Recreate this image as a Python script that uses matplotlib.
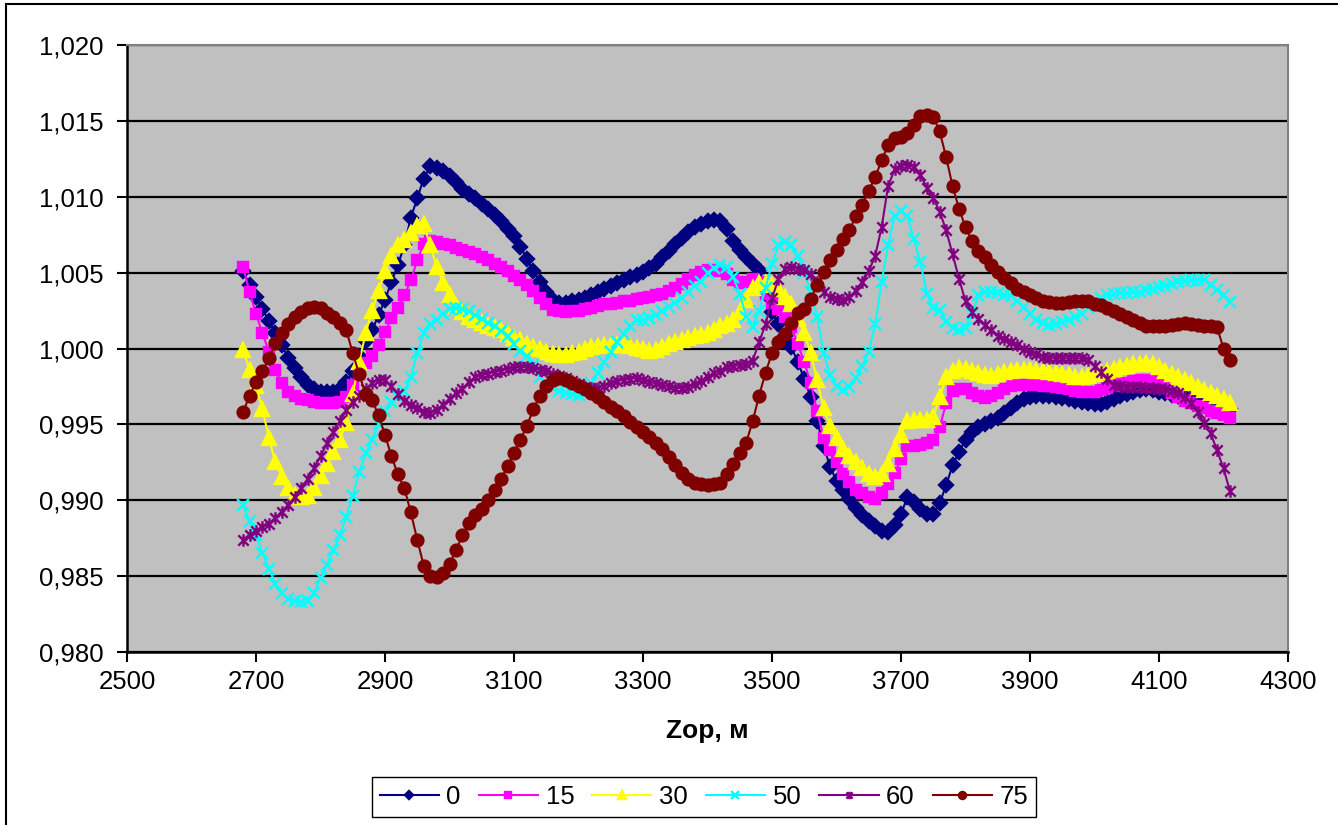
import numpy as np
import matplotlib
matplotlib.use('Agg')
import matplotlib.pyplot as plt
from matplotlib.path import Path
from matplotlib.ticker import FuncFormatter, MultipleLocator

plt.rcParams['font.family'] = ['Liberation Sans', 'DejaVu Sans']

# глубина, м (шаг 10 м)
depth = np.arange(2680, 4211, 10)

# отклонения от 1 в тысячных долях (y = 1 + v/1000)
s0 = [5.1, 4.2,
      3.4, 2.6, 1.8, 1.0, 0.2, -0.6, -1.3, -1.9, -2.4, -2.7,
      -2.85, -2.85, -2.85, -2.7, -2.2, -1.5, -0.5, 0.5, 1.2, 2.2,
      3.2, 4.4, 5.5, 6.8, 8.6, 9.9, 11.2, 12.0, 11.9, 11.7,
      11.4, 11.0, 10.5, 10.2, 9.9, 9.5, 9.2, 8.8, 8.4, 7.9,
      7.4, 6.7, 5.9, 5.1, 4.4, 3.7, 3.2, 3.0, 3.0, 3.1,
      3.2, 3.35, 3.55, 3.75, 3.9, 4.1, 4.3, 4.5, 4.7, 4.85,
      5.05, 5.3, 5.6, 6.0, 6.4, 6.9, 7.3, 7.7, 8.0, 8.2,
      8.4, 8.47, 8.4, 7.9, 7.1, 6.5, 6.0, 5.6, 5.2, 3.6,
      2.4, 1.6, 0.8, 0.1, -0.9, -2.0, -3.2, -4.8, -6.4, -7.8,
      -8.7, -9.3, -9.9, -10.5, -11.0, -11.4, -11.7, -12.0, -12.1, -11.6,
      -10.9, -9.8, -10.1, -10.6, -10.9, -10.9, -10.2, -9.0, -7.7, -6.8,
      -6.0, -5.5, -5.2, -5.0, -4.8, -4.55, -4.25, -3.9, -3.6, -3.35,
      -3.2, -3.1, -3.1, -3.15, -3.2, -3.25, -3.35, -3.45, -3.55, -3.6,
      -3.65, -3.65, -3.5, -3.3, -3.15, -3.0, -2.85, -2.75, -2.7, -2.75,
      -2.85, -2.95, -3.05, -3.15, -3.2, -3.25, -3.3, -3.4, -3.5, -3.6,
      -3.8, -4.0]

s15 = [5.4, 3.7,
       2.3, 1.0, -0.2, -1.4, -2.3, -2.85, -3.1, -3.3, -3.4, -3.55,
       -3.6, -3.6, -3.6, -3.55, -3.2, -2.4, -1.7, -0.95, -0.5, 0.2,
       1.1, 2.0, 2.7, 3.5, 4.5, 5.8, 6.9, 7.1, 7.05, 6.9,
       6.8, 6.65, 6.5, 6.35, 6.2, 6.0, 5.85, 5.6, 5.35, 5.1,
       4.8, 4.5, 4.2, 3.8, 3.3, 2.9, 2.55, 2.45, 2.4, 2.45,
       2.5, 2.6, 2.7, 2.8, 2.9, 2.95, 3.0, 3.1, 3.15, 3.25,
       3.3, 3.4, 3.5, 3.6, 3.8, 4.0, 4.25, 4.6, 4.85, 5.05,
       5.15, 5.15, 5.1, 4.9, 4.5, 4.3, 4.35, 4.55, 4.4, 3.6,
       3.0, 2.6, 2.1, 1.4, 0.3, -0.9, -2.3, -4.1, -5.9, -6.7,
       -7.5, -8.3, -8.8, -9.3, -9.5, -9.8, -9.9, -9.5, -8.9, -8.2,
       -7.3, -6.45, -6.4, -6.35, -6.25, -6.0, -5.2, -3.6, -2.8, -2.65,
       -2.65, -2.9, -3.15, -3.25, -3.15, -2.95, -2.7, -2.5, -2.4, -2.4,
       -2.4, -2.4, -2.45, -2.5, -2.55, -2.6, -2.7, -2.8, -2.85, -2.85,
       -2.85, -2.75, -2.6, -2.45, -2.35, -2.25, -2.15, -2.1, -2.1, -2.15,
       -2.3, -2.55, -2.9, -3.2, -3.45, -3.6, -3.8, -3.95, -4.1, -4.25,
       -4.4, -4.6]

s30 = [-0.1, -1.4,
       -2.5, -4.0, -5.9, -7.5, -8.5, -9.2, -9.65, -9.8, -9.75, -9.2,
       -8.4, -7.6, -6.8, -6.0, -4.9, -3.0, -0.9, 1.0, 2.5, 3.8,
       5.1, 6.1, 6.8, 7.15, 7.6, 8.1, 8.2, 6.8, 5.4, 4.3,
       3.5, 2.8, 2.4, 2.1, 1.9, 1.7, 1.5, 1.35, 1.2, 0.95,
       0.7, 0.55, 0.3, 0.1, -0.05, -0.25, -0.35, -0.4, -0.4, -0.3,
       -0.2, -0.05, 0.1, 0.15, 0.2, 0.25, 0.25, 0.2, 0.15, 0.05,
       0.0, -0.15, -0.1, 0.1, 0.3, 0.45, 0.55, 0.7, 0.8, 0.9,
       1.0, 1.25, 1.45, 1.6, 1.9, 2.4, 3.2, 4.0, 4.3, 4.3,
       4.2, 3.9, 3.4, 2.9, 2.0, 1.0, -0.3, -2.1, -3.9, -5.1,
       -5.9, -6.6, -7.1, -7.5, -7.9, -8.25, -8.45, -8.3, -7.6, -6.6,
       -5.7, -4.75, -4.7, -4.7, -4.7, -4.5, -3.2, -1.9, -1.45, -1.3,
       -1.35, -1.45, -1.6, -1.75, -1.8, -1.7, -1.55, -1.45, -1.4, -1.4,
       -1.42, -1.45, -1.5, -1.55, -1.6, -1.65, -1.75, -1.85, -1.9, -1.8,
       -1.7, -1.6, -1.45, -1.35, -1.25, -1.15, -1.05, -1.0, -0.98, -1.05,
       -1.2, -1.45, -1.7, -1.9, -2.1, -2.3, -2.55, -2.75, -2.95, -3.15,
       -3.35, -3.6]

s50 = [-10.3, -11.4,
       -12.3, -13.5, -14.5, -15.5, -16.1, -16.5, -16.65, -16.7, -16.65, -16.1,
       -15.1, -14.25, -13.3, -12.3, -11.1, -9.7, -8.15, -6.9, -6.0, -5.0,
       -4.1, -3.5, -3.2, -2.8, -1.9, -0.3, 1.0, 1.6, 1.9, 2.3,
       2.6, 2.7, 2.6, 2.45, 2.2, 1.95, 1.7, 1.45, 1.15, 0.8,
       0.3, -0.15, -0.5, -1.1, -1.85, -2.3, -2.6, -2.8, -2.9, -3.0,
       -3.05, -2.9, -2.3, -1.6, -0.9, -0.25, 0.4, 0.95, 1.5, 1.85,
       1.9, 2.0, 2.2, 2.45, 2.75, 3.0, 3.3, 3.7, 4.1, 4.35,
       5.0, 5.3, 5.5, 5.35, 4.7, 3.6, 2.1, 1.4, 2.5, 4.0,
       5.6, 6.8, 7.05, 6.8, 6.1, 5.0, 3.7, 2.1, -0.3, -1.75,
       -2.5, -2.75, -2.55, -1.95, -1.15, -0.2, 1.6, 4.4, 6.8, 8.7,
       9.05, 8.7, 7.2, 5.7, 3.6, 2.65, 2.55, 1.75, 1.35, 1.2,
       1.35, 2.3, 3.5, 3.75, 3.7, 3.65, 3.55, 3.45, 3.15, 2.75,
       2.3, 1.9, 1.65, 1.55, 1.6, 1.75, 1.9, 2.1, 2.3, 2.65,
       3.05, 3.3, 3.5, 3.6, 3.65, 3.65, 3.7, 3.75, 3.85, 3.95,
       4.05, 4.15, 4.25, 4.35, 4.45, 4.5, 4.5, 4.5, 4.2, 3.85,
       3.5, 3.05]

s60 = [-12.6, -12.3,
       -12.05, -11.75, -11.55, -11.15, -10.75, -10.3, -9.8, -9.2, -8.6, -7.9,
       -7.1, -6.25, -5.5, -4.8, -4.05, -3.5, -3.15, -2.7, -2.25, -2.05,
       -2.1, -2.5, -3.0, -3.45, -3.7, -3.95, -4.2, -4.25, -4.05, -3.7,
       -3.3, -2.95, -2.65, -2.2, -1.9, -1.75, -1.65, -1.55, -1.45, -1.35,
       -1.25, -1.2, -1.25, -1.3, -1.4, -1.5, -1.65, -1.8, -1.95, -2.15,
       -2.35, -2.55, -2.6, -2.6, -2.45, -2.3, -2.15, -2.05, -1.98, -1.96,
       -2.05, -2.2, -2.3, -2.4, -2.5, -2.6, -2.6, -2.55, -2.35, -2.15,
       -1.9, -1.6, -1.45, -1.25, -1.15, -1.1, -1.05, -0.8, 0.4, 1.6,
       3.3, 4.6, 5.25, 5.35, 5.25, 5.15, 4.9, 4.35, 3.7, 3.4,
       3.25, 3.2, 3.4, 3.8, 4.4, 5.1, 6.1, 8.0, 10.7, 11.8,
       12.05, 12.1, 11.95, 11.45, 10.6, 9.95, 9.0, 7.8, 6.2, 4.6,
       3.1, 2.4, 1.95, 1.55, 1.2, 0.85, 0.65, 0.4, 0.2, 0.0,
       -0.2, -0.35, -0.55, -0.65, -0.65, -0.65, -0.65, -0.65, -0.65, -0.75,
       -1.15, -1.55, -2.0, -2.4, -2.5, -2.52, -2.52, -2.55, -2.6, -2.6,
       -2.65, -2.7, -2.8, -2.9, -3.2, -3.6, -4.2, -4.9, -5.6, -6.7,
       -7.9, -9.4]

s75 = [-4.2, -3.1,
       -2.2, -1.5, -0.65, 0.35, 1.0, 1.6, 2.05, 2.4, 2.65, 2.75,
       2.65, 2.35, 2.05, 1.7, 1.2, -0.3, -1.7, -3.0, -3.4, -4.4,
       -5.7, -7.1, -8.3, -9.2, -10.8, -12.6, -14.3, -15.0, -15.05, -14.8,
       -14.2, -13.3, -12.3, -11.5, -11.0, -10.6, -10.0, -9.3, -8.6, -7.75,
       -6.9, -6.0, -5.1, -4.0, -3.1, -2.5, -2.1, -1.95, -2.05, -2.3,
       -2.45, -2.65, -2.95, -3.2, -3.5, -3.85, -4.15, -4.45, -4.85, -5.15,
       -5.5, -5.8, -6.2, -6.65, -7.15, -7.7, -8.2, -8.6, -8.85, -8.95,
       -9.0, -8.95, -8.85, -8.3, -7.6, -6.9, -6.2, -4.8, -3.1, -1.6,
       -0.3, 0.45, 0.95, 1.65, 2.35, 2.6, 3.25, 4.2, 5.05, 5.85,
       6.5, 7.2, 7.8, 8.7, 9.45, 10.4, 11.3, 12.4, 13.4, 13.85,
       13.95, 14.2, 14.75, 15.3, 15.38, 15.27, 14.3, 12.6, 10.7, 9.2,
       8.0, 7.1, 6.4, 6.0, 5.5, 5.05, 4.65, 4.3, 3.95, 3.7,
       3.5, 3.3, 3.15, 3.08, 3.0, 3.0, 3.08, 3.15, 3.15, 3.1,
       2.95, 2.85, 2.7, 2.45, 2.3, 2.05, 1.85, 1.65, 1.5, 1.45,
       1.45, 1.5, 1.55, 1.6, 1.65, 1.6, 1.55, 1.45, 1.45, 1.4,
       0.0, -0.75]

labels = ['0', '15', '30', '50', '60', '75']
colors = ['#000080', '#FF00FF', '#FFFF00', '#00FFFF', '#800080', '#800000']
xticks = [2500, 2700, 2900, 3100, 3300, 3500, 3700, 3900, 4100, 4300]

# звездочка Excel: крестик + вертикальная черта
star = Path([(-1, -1), (1, 1), (-1, 1), (1, -1), (0, -1.2), (0, 1.2)],
            [Path.MOVETO, Path.LINETO, Path.MOVETO, Path.LINETO, Path.MOVETO, Path.LINETO])
markers = [('D', 7.5), ('s', 7.5), ('^', 9.5), ('x', 8.5), (star, 9), ('o', 8.5)]

fig = plt.figure(figsize=(13.38, 8.25), dpi=100)
W, H = 1338, 825
ax = fig.add_axes([127 / W, 1 - 652 / H, (1288 - 127) / W, (652 - 45) / H])
ax.set_facecolor('#C0C0C0')

for vals, lab, col, (mk, ms) in zip([s0, s15, s30, s50, s60, s75], labels, colors, markers):
    assert len(vals) == len(depth), (lab, len(vals))
    y = 1 + np.array(vals) / 1000
    ax.plot(depth, y, color=col, lw=1.5, marker=mk, ms=ms,
            mfc=col, mec=col, mew=1.7, label=lab)

ax.set_xlim(2500, 4300)
ax.set_ylim(0.980, 1.020)
ax.set_xticks(xticks)
ax.yaxis.set_major_locator(MultipleLocator(0.005))
ax.yaxis.set_major_formatter(FuncFormatter(lambda v, p: f"{v:.3f}".replace('.', ',')))
ax.grid(axis='y', color='black', lw=1.6)
ax.set_axisbelow(True)

for side in ['top', 'right']:
    ax.spines[side].set_color('#808080')
    ax.spines[side].set_linewidth(1.5)
for side in ['left', 'bottom']:
    ax.spines[side].set_color('black')
    ax.spines[side].set_linewidth(1.8)

ax.tick_params(axis='both', direction='out', length=7, width=1.5, labelsize=18.5, colors='black')
ax.tick_params(axis='y', pad=10)
ax.tick_params(axis='x', pad=6)

ax.set_xlabel('Zop, м', fontsize=19, fontweight='bold', labelpad=18)

fig.legend(loc='center', bbox_to_anchor=(704 / W, 1 - 797 / H), ncol=6,
           fontsize=18.5, frameon=True, fancybox=False, edgecolor='black',
           framealpha=1, markerscale=0.6, handlelength=2.3, handletextpad=0.3,
           columnspacing=0.7, borderpad=0.3)

# рамка области диаграммы
fig.add_artist(plt.Line2D([6 / W, 6 / W], [0, 1 - 4 / H], transform=fig.transFigure, color='black', lw=1.5))
fig.add_artist(plt.Line2D([6 / W, 1], [1 - 4 / H, 1 - 4 / H], transform=fig.transFigure, color='black', lw=1.5))

fig.savefig('out.png', dpi=100)
